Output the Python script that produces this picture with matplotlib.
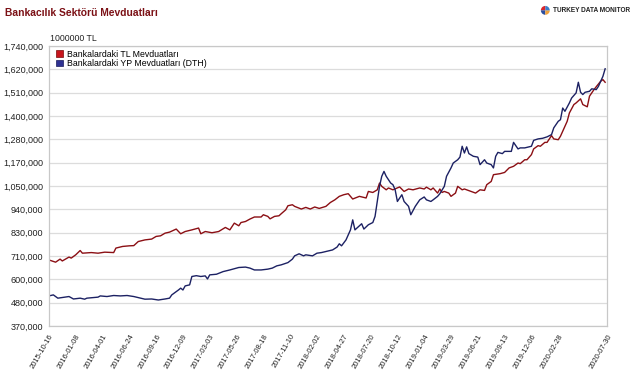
"""
Bankacılık sektörü mevduatları (TL / YP) grafiği
"""
import numpy as np
import pandas as pd
import matplotlib
matplotlib.use('Agg')
import matplotlib.pyplot as plt
from matplotlib.patches import Patch

plt.rcParams['font.family'] = ['Liberation Sans', 'DejaVu Sans']

start_date = '2015-10-16'

# TL mevduatları (hafta, milyon TL)
tl_weeks = [0, 3, 5, 6, 9, 10, 12, 14, 15, 19, 22, 25, 29, 30, 33, 36, 38, 40, 43, 46,
            48, 50, 52, 54, 57, 59, 61, 64, 67, 68, 70, 73, 76, 79, 81, 83, 85, 86, 88, 90,
            92, 95, 96, 98, 99, 101, 103, 104, 106, 107, 109, 110, 113, 115, 117, 119, 121, 124, 126, 128,
            130, 132, 134, 136, 139, 142, 143, 145, 147, 148, 149, 151, 152, 154, 157, 159, 161, 163, 166, 168,
            169, 171, 172, 174, 175, 176, 177, 179, 180, 182, 183, 185, 186, 189, 191, 193, 195, 196, 198, 199,
            202, 204, 206, 208, 210, 211, 213, 214, 216, 217, 219, 220, 222, 223, 225, 226, 228, 229, 230, 232,
            233, 235, 236, 238, 239, 241, 242, 244, 245, 247, 248, 249]
tl_values = [693, 682, 697, 688, 707, 702, 718, 739, 726, 729, 726, 731, 729, 751, 759, 762, 763, 783, 791, 795,
             808, 811, 824, 829, 844, 821, 832, 840, 849, 821, 832, 826, 832, 852, 840, 873, 860, 876, 881, 893,
             903, 903, 914, 906, 894, 906, 909, 919, 938, 958, 963, 955, 942, 950, 942, 952, 945, 955, 974, 987,
             1004, 1012, 1017, 991, 1004, 996, 1028, 1023, 1036, 1069, 1053, 1036, 1045, 1036, 1050, 1028, 1040, 1036, 1045, 1040,
             1049, 1036, 1045, 1020, 1040, 1023, 1028, 1020, 1004, 1020, 1053, 1036, 1040, 1028, 1020, 1036, 1033, 1061, 1077, 1110,
             1115, 1121, 1143, 1151, 1167, 1164, 1183, 1183, 1208, 1236, 1252, 1249, 1268, 1268, 1301, 1285, 1281, 1298, 1322, 1371,
             1412, 1453, 1461, 1481, 1453, 1442, 1494, 1526, 1540, 1567, 1575, 1562]

# YP mevduatları (DTH)
yp_weeks = [0, 2, 4, 7, 9, 11, 14, 16, 17, 22, 23, 26, 29, 32, 35, 38, 41, 43, 46, 49,
            52, 54, 55, 58, 59, 60, 61, 63, 64, 66, 68, 70, 71, 72, 75, 78, 81, 85, 88, 90,
            92, 95, 98, 100, 102, 104, 107, 109, 110, 112, 114, 115, 118, 120, 122, 124, 127, 129, 130, 131,
            133, 135, 136, 137, 139, 140, 141, 143, 145, 146, 147, 148, 149, 150, 151, 153, 154, 155, 156, 158,
            159, 161, 162, 164, 166, 168, 169, 171, 172, 174, 175, 177, 178, 180, 181, 183, 184, 185, 186, 187,
            188, 190, 192, 193, 195, 196, 198, 199, 200, 201, 203, 204, 207, 208, 210, 211, 213, 216, 217, 219,
            221, 223, 225, 226, 228, 229, 230, 231, 233, 234, 236, 237, 238, 239, 240, 242, 243, 245, 246, 248,
            249]
yp_values = [517, 522, 506, 511, 514, 502, 506, 501, 506, 511, 517, 514, 519, 517, 519, 514, 506, 501, 502, 497,
             502, 506, 522, 546, 555, 546, 566, 571, 612, 616, 612, 615, 600, 620, 623, 636, 644, 656, 658, 653,
             644, 644, 648, 653, 664, 669, 680, 697, 713, 723, 713, 718, 713, 726, 729, 734, 742, 756, 772, 762,
             791, 840, 889, 840, 860, 870, 844, 865, 876, 906, 979, 1053, 1102, 1126, 1102, 1069, 1061, 1036, 979, 1012,
             979, 955, 914, 955, 987, 1001, 987, 979, 987, 1004, 1017, 1053, 1102, 1143, 1167, 1183, 1196, 1249, 1216, 1246,
             1213, 1200, 1196, 1159, 1183, 1167, 1159, 1143, 1200, 1219, 1213, 1224, 1224, 1268, 1236, 1241, 1241, 1249, 1278, 1285,
             1288, 1295, 1306, 1339, 1371, 1379, 1436, 1420, 1461, 1485, 1510, 1562, 1513, 1502, 1513, 1518, 1530, 1526, 1542, 1591,
             1628]

x_tick_labels = ['2015-10-16', '2016-01-08', '2016-04-01', '2016-06-24', '2016-09-16', '2016-12-09',
                 '2017-03-03', '2017-05-26', '2017-08-18', '2017-11-10', '2018-02-02', '2018-04-27',
                 '2018-07-20', '2018-10-12', '2019-01-04', '2019-03-29', '2019-06-21', '2019-09-13',
                 '2019-12-06', '2020-02-28', '2020-07-30']
y_tick_labels = ['370,000', '480,000', '600,000', '710,000', '830,000', '940,000', '1,050,000',
                 '1,170,000', '1,280,000', '1,400,000', '1,510,000', '1,620,000', '1,740,000']

t0 = pd.Timestamp(start_date)
tl_dates = t0 + pd.to_timedelta(np.array(tl_weeks) * 7, unit='D')
yp_dates = t0 + pd.to_timedelta(np.array(yp_weeks) * 7, unit='D')
tl = np.array(tl_values) * 1000
yp = np.array(yp_values) * 1000

fig = plt.figure(figsize=(6.35, 3.7), dpi=100)
ax = fig.add_axes([0.077, 0.119, 0.879, 0.757])

ax.plot(tl_dates, tl, color='#8B0F14', lw=1.0)
ax.plot(yp_dates, yp, color='#1C2163', lw=1.0)

# eksenler
y_ticks = np.linspace(370000, 1740000, len(y_tick_labels))
ax.set_ylim(370000, 1740000)
ax.set_yticks(y_ticks)
ax.set_yticklabels(y_tick_labels, fontsize=6.5, color='#222222')
ax.grid(axis='y', color='#DCDCDC', lw=0.9)
ax.set_axisbelow(True)

ax.set_xlim(t0, pd.Timestamp(x_tick_labels[-1]))
ax.set_xticks(pd.to_datetime(x_tick_labels))
ax.set_xticklabels(x_tick_labels, rotation=60, ha='right', rotation_mode='anchor',
                   fontsize=5.5, color='#222222')
ax.tick_params(axis='y', length=0, pad=4)
ax.tick_params(axis='x', length=0, pad=5)

for s in ax.spines.values():
    s.set_color('#C8C8C8')
    s.set_linewidth(0.9)

# lejant
handles = [Patch(facecolor='#C8161D', edgecolor='#7A0A0A', lw=0.5),
           Patch(facecolor='#2E3192', edgecolor='#1A1A5A', lw=0.5)]
ax.legend(handles, ['Bankalardaki TL Mevduatları', 'Bankalardaki YP Mevduatları (DTH)'],
          loc='upper left', bbox_to_anchor=(0.0, 1.012), frameon=False, fontsize=6.3,
          handlelength=0.8, handleheight=0.8, handletextpad=0.5, labelspacing=0.05,
          borderaxespad=0.4)

# başlıklar
fig.text(0.008, 0.966, 'Bankacılık Sektörü Mevduatları', fontsize=7.4, fontweight='bold',
         color='#7B1015', va='center', ha='left')
fig.text(0.079, 0.895, '1000000 TL', fontsize=6.3, color='#222222', va='center', ha='left')

# logo
lax = fig.add_axes([0.850, 0.957, 0.0175, 0.030])
lax.pie([1, 1, 1, 1], colors=['#D7262B', '#2B4FA0', '#F2A23A', '#3A7BC8'], startangle=90)
lax.set_aspect('equal')
fig.text(0.871, 0.972, 'TURKEY DATA MONITOR', fontsize=4.7, fontweight='bold',
         color='#222222', va='center', ha='left')

fig.savefig('out.png', dpi=100)
